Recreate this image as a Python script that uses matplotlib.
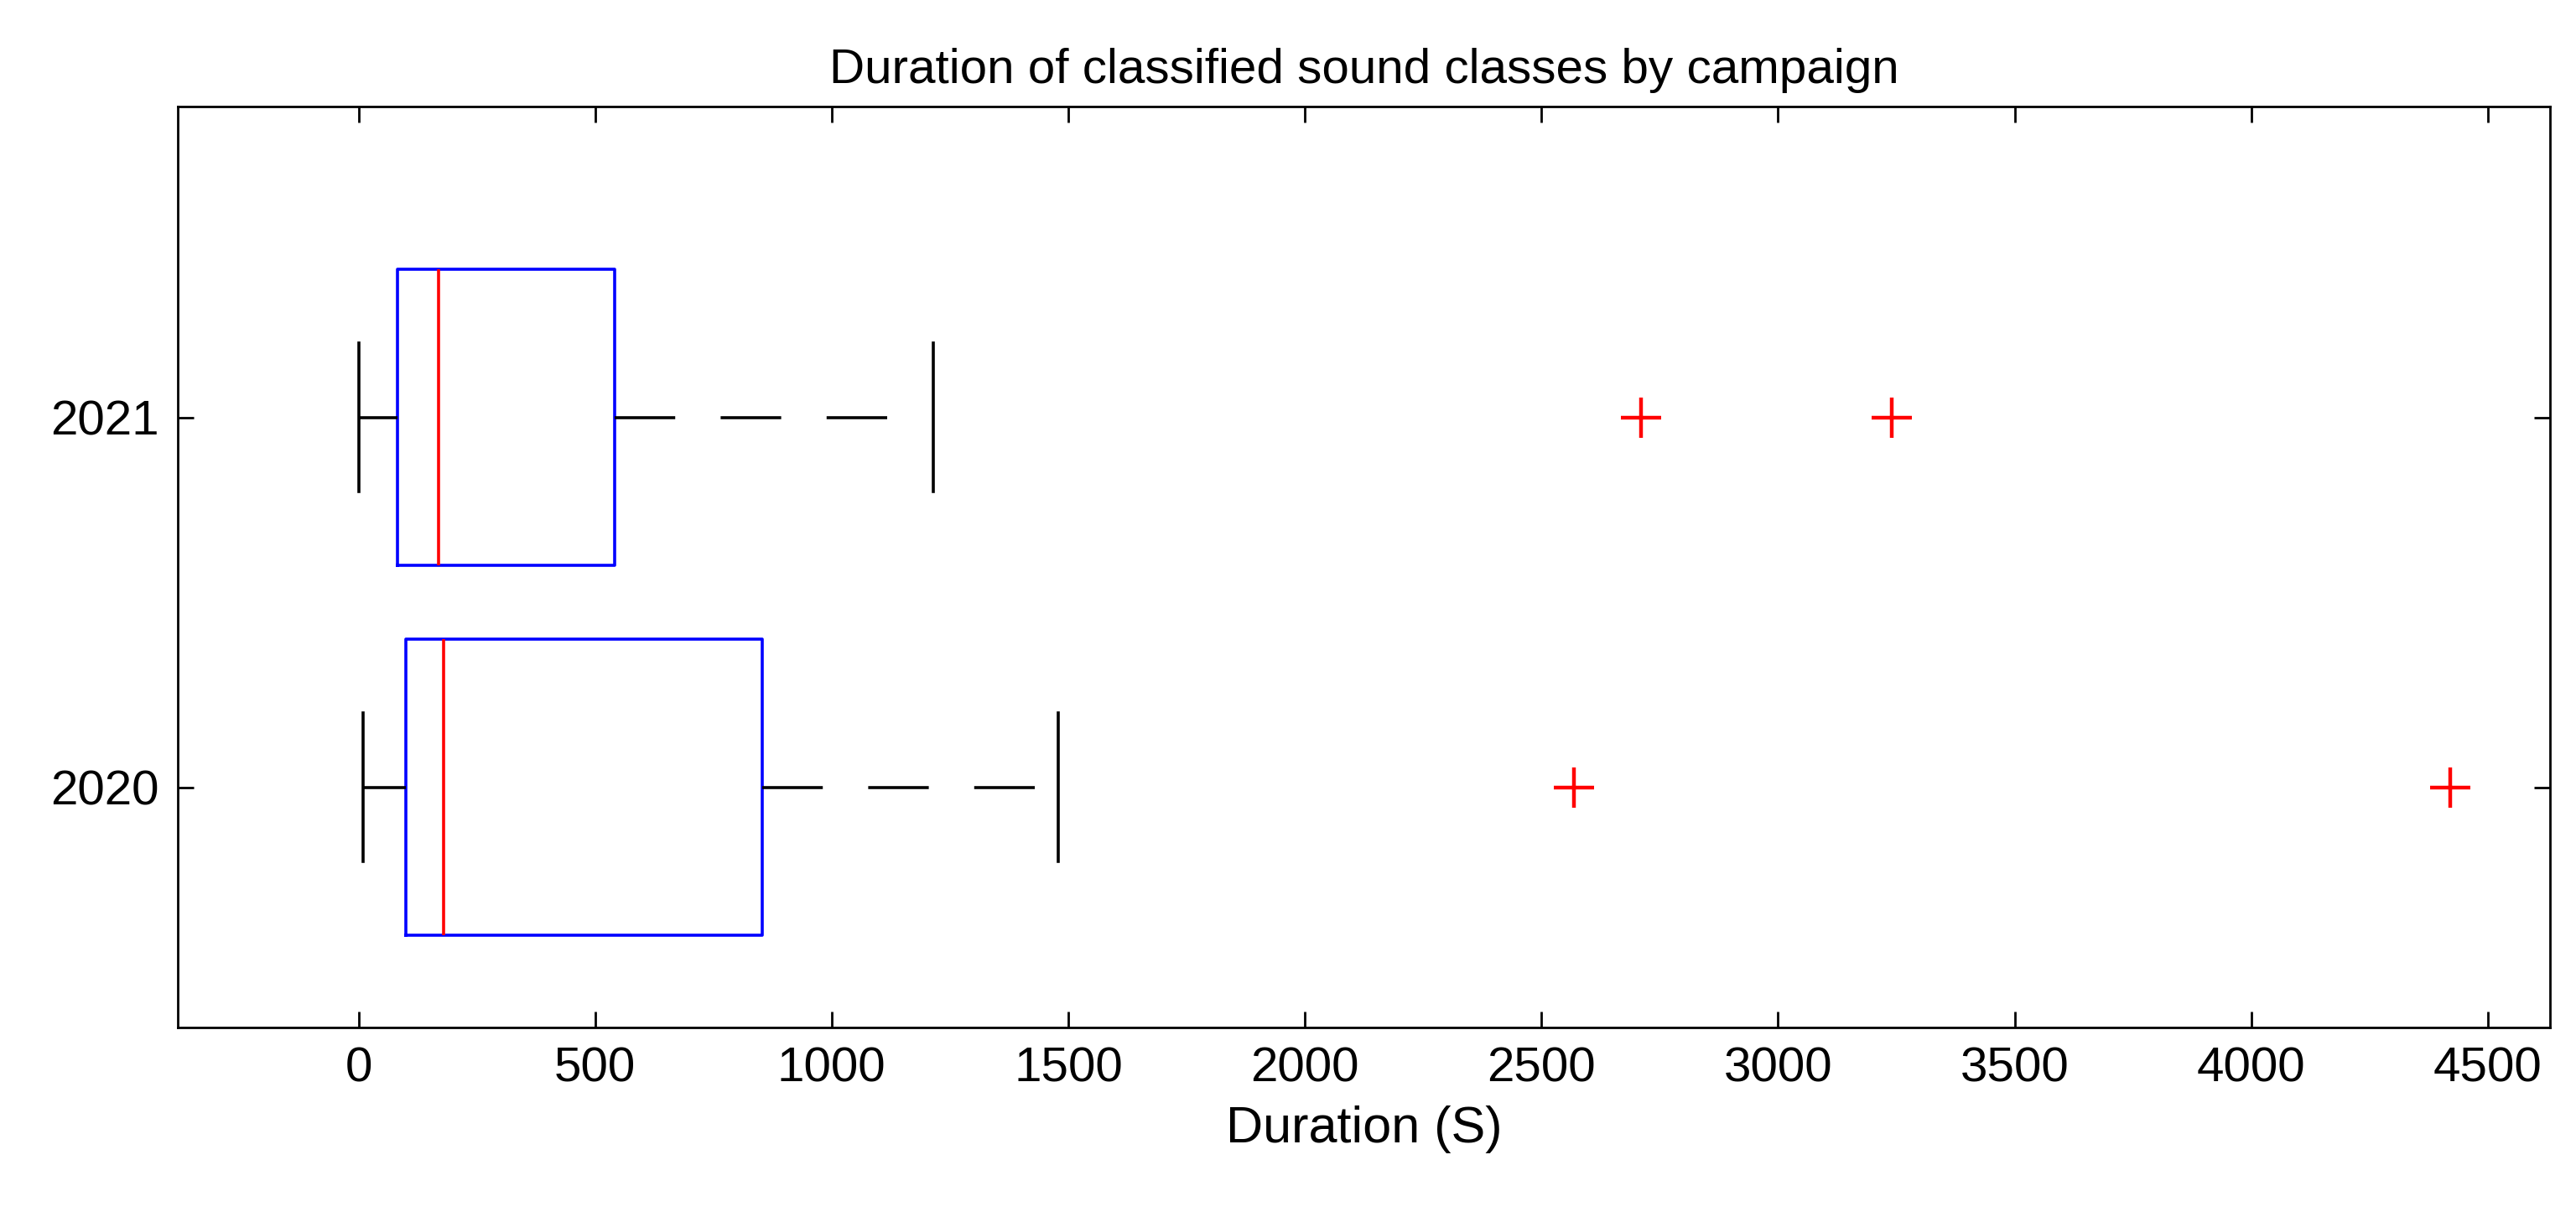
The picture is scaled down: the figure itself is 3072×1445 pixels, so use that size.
import matplotlib
matplotlib.use("Agg")
import matplotlib.pyplot as plt

# ---- data ----
campaigns = ["2020", "2021"]
whislo = [10, 0]
q1 = [100, 83]
med = [180, 170]
q3 = [854, 542]
whishi = [1479, 1215]
fliers = [[2569, 4420], [2710, 3240]]

plt.rcParams["font.family"] = ["Liberation Sans", "DejaVu Sans"]

fig = plt.figure(figsize=(15.36, 7.225), dpi=200)
ax = fig.add_axes([0.069, 0.152, 0.921, 0.760])

stats = []
for i, lab in enumerate(campaigns):
    stats.append(dict(label=lab, whislo=whislo[i], q1=q1[i], med=med[i],
                      q3=q3[i], whishi=whishi[i], fliers=fliers[i]))

ax.bxp(stats, positions=[1, 2], vert=False, widths=0.8, showfliers=True,
       boxprops=dict(color="blue", linewidth=1.3),
       medianprops=dict(color="red", linewidth=1.3),
       whiskerprops=dict(color="black", linewidth=1.3, linestyle=(0, (20, 15))),
       capprops=dict(color="black", linewidth=1.3),
       capwidths=0.4,
       flierprops=dict(marker="+", markeredgecolor="red", markersize=17,
                       markeredgewidth=1.6, linestyle="none"))

ax.set_xlim(-382, 4632)
ax.set_ylim(0.35, 2.84)
ax.set_xticks(range(0, 4501, 500))
ax.set_yticks([1, 2])
ax.set_yticklabels(campaigns)
ax.tick_params(axis="both", direction="in", labelsize=21, length=7,
               top=True, right=True, width=1.0, pad=8)
for s in ax.spines.values():
    s.set_linewidth(1.0)
ax.set_xlabel("Duration (S)", fontsize=22, labelpad=6)
ax.set_title("Duration of classified sound classes by campaign", fontsize=21, pad=10)

fig.savefig("out.png", dpi=200, facecolor="white")
